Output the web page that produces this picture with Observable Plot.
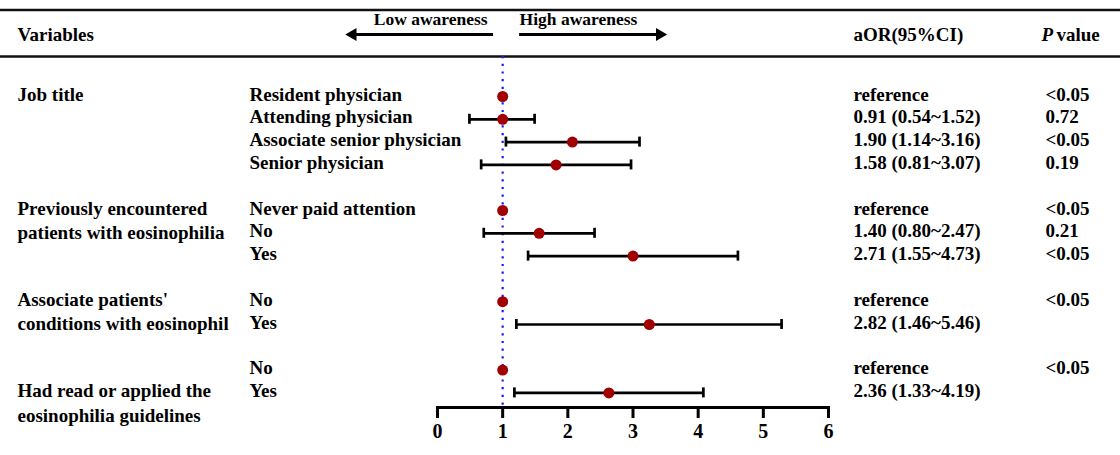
<!DOCTYPE html>
<html><head><meta charset="utf-8">
<script src="https://cdn.jsdelivr.net/npm/d3@7"></script>
<script src="https://cdn.jsdelivr.net/npm/@observablehq/plot@0.6"></script>
<style>
html,body{margin:0;padding:0;background:#fff;}
</style></head><body><div id="chart"></div>
<script>
// ---- data ----
const groups = [
  "Job title",
  "Previously encountered\npatients with eosinophilia",
  "Associate patients'\nconditions with eosinophil",
  "Had read or applied the\neosinophilia guidelines"
];
const items = ["Resident physician","Attending physician","Associate senior physician","Senior physician",
  "Never paid attention","No","Yes","No","Yes","No","Yes"];
const itemGroup = [0,0,0,0,1,1,1,2,2,3,3];
const oddsRatio = [1.00, 1.00, 2.07, 1.82, 1.00, 1.56, 3.00, 1.00, 3.25, 1.00, 2.63];
const lowerCI   = [null, 0.49, 1.05, 0.67, null, 0.71, 1.39, null, 1.21, null, 1.18];
const upperCI   = [null, 1.49, 3.10, 2.97, null, 2.41, 4.61, null, 5.28, null, 4.08];
const aorText = ["reference","0.91 (0.54~1.52)","1.90 (1.14~3.16)","1.58 (0.81~3.07)",
  "reference","1.40 (0.80~2.47)","2.71 (1.55~4.73)","reference","2.82 (1.46~5.46)","reference","2.36 (1.33~4.19)"];
const pText = ["<0.05","0.72","<0.05","0.19","<0.05","0.21","<0.05","<0.05","","<0.05",""];
const xTicks = [0,1,2,3,4,5,6];
const directionLabels = ["Low awareness","High awareness"];

// ---- layout helpers (row index derived from order) ----
const rows = [];
let r = 0;
items.forEach((name, i) => {
  if (i > 0 && itemGroup[i] !== itemGroup[i-1]) r += 1;
  rows.push({row: r, name, or: oddsRatio[i], lo: lowerCI[i], hi: upperCI[i], aor: aorText[i], p: pText[i], group: itemGroup[i]});
  r += 1;
});
const ci = rows.filter(d => d.lo != null);
const labelStart = [0,0,0,1];
const groupLines = [];
groups.forEach((g, gi) => {
  const first = rows.find(d => d.group === gi).row + labelStart[gi];
  g.split("\n").forEach((line, k) => groupLines.push({row: first + k*1.08, text: line}));
});

const font = "'Liberation Serif','Times New Roman',serif";
const T = {fontSize: 19, fontWeight: "bold", fill: "#000", textAnchor: "start"};
const hdrRow = -2.72, lblRow = -3.40, topRule = -3.79, botRule = -1.754;

const chart = Plot.plot({
  width: 1120, height: 455,
  marginLeft: 437, marginRight: 292, marginTop: 56, marginBottom: 48,
  style: {fontFamily: font, background: "#fff", overflow: "visible"},
  x: {domain: [0, 6]},
  y: {domain: [0, 13], range: [96, 392.4], axis: null},
  marks: [
    // header rules
    Plot.ruleY([topRule, botRule], {y: d => d, insetLeft: -437, insetRight: -292, stroke: "#111", strokeWidth: 2.5}),
    // reference line
    Plot.ruleX([1], {stroke: "#1a1aff", strokeWidth: 2.2, strokeDasharray: "2.2 5.5"}),
    // axis
    Plot.frame({anchor: "bottom", stroke: "#000", strokeWidth: 3}),
    Plot.axisX({ticks: xTicks, tickSize: 11, strokeWidth: 3, tickPadding: 5, fontSize: 20, fontWeight: "bold", tickFormat: d => d, label: null, fill: "#000", stroke: "#000"}),
    // CI
    Plot.ruleY(ci, {y: "row", x1: "lo", x2: "hi", stroke: "#000", strokeWidth: 2.7}),
    Plot.ruleX(ci, {x: "lo", y1: d => d.row - 0.22, y2: d => d.row + 0.22, stroke: "#000", strokeWidth: 2.7}),
    Plot.ruleX(ci, {x: "hi", y1: d => d.row - 0.22, y2: d => d.row + 0.22, stroke: "#000", strokeWidth: 2.7}),
    Plot.dot(rows, {x: "or", y: "row", r: 5.5, fill: "#a00000", stroke: "none"}),
    // text columns
    Plot.text(groupLines, {y: "row", text: "text", ...T, frameAnchor: "left", dx: -420, dy: -2}),
    Plot.text(rows, {y: "row", text: "name", ...T, frameAnchor: "left", dx: -188, dy: -2}),
    Plot.text(rows, {y: "row", text: "aor", ...T, frameAnchor: "right", dx: 25, dy: -2}),
    Plot.text(rows, {y: "row", text: "p", ...T, frameAnchor: "right", dx: 217, dy: -2}),
    // header
    Plot.text(["Variables"], {y: () => hdrRow, text: d => d, ...T, frameAnchor: "left", dx: -420}),
    Plot.text(["aOR(95%CI)"], {y: () => hdrRow, text: d => d, ...T, frameAnchor: "right", dx: 25}),
    Plot.text(["P"], {y: () => hdrRow, text: d => d, ...T, fontStyle: "italic", frameAnchor: "right", dx: 213}),
    Plot.text(["value"], {y: () => hdrRow, text: d => d, ...T, frameAnchor: "right", dx: 228}),
    // direction arrows
    Plot.ruleY([0], {y: () => hdrRow, x1: () => -1.30, x2: () => 0.86, stroke: "#000", strokeWidth: 3}),
    Plot.ruleY([0], {y: () => hdrRow, x1: () => 1.26, x2: () => 3.41, stroke: "#000", strokeWidth: 3}),
    Plot.dot([0], {x: () => -1.30, y: () => hdrRow, symbol: "triangle", r: 4.8, rotate: -90, fill: "#000", stroke: "none"}),
    Plot.dot([0], {x: () => 3.41, y: () => hdrRow, symbol: "triangle", r: 4.8, rotate: 90, fill: "#000", stroke: "none"}),
    Plot.text([directionLabels[0]], {x: () => 0.77, y: () => lblRow, text: d => d, ...T, fontSize: 17.5, textAnchor: "end"}),
    Plot.text([directionLabels[1]], {x: () => 1.26, y: () => lblRow, text: d => d, ...T, fontSize: 17.5, textAnchor: "start"})
  ]
});
document.getElementById("chart").appendChild(chart);
</script>
</body></html>
